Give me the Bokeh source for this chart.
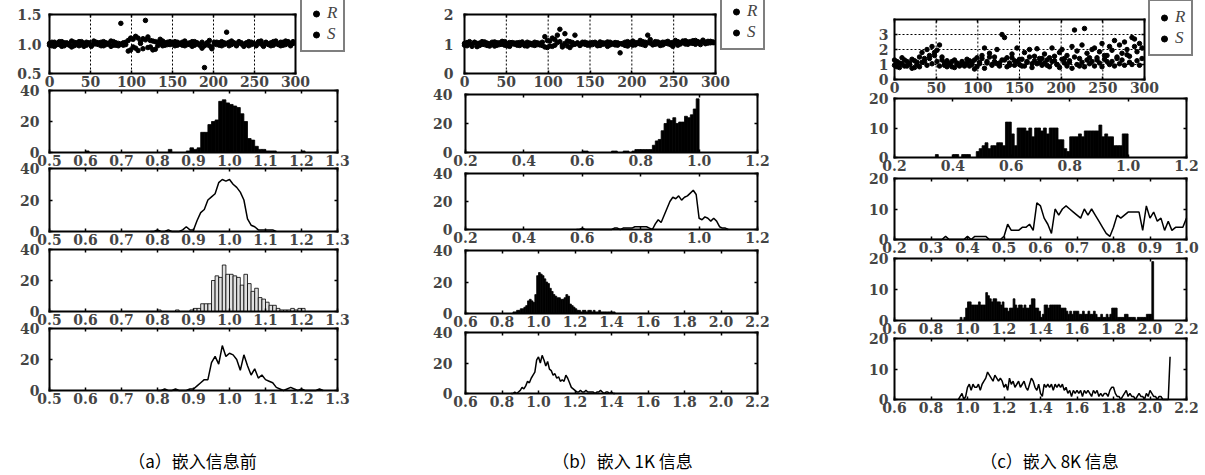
from bokeh.plotting import figure
from bokeh.models import Range1d, LinearAxis, FixedTicker, PrintfTickFormatter, Legend, LegendItem, Label
from bokeh.embed import file_html
from bokeh.resources import INLINE

# ---------------- data ----------------
idx = list(range(0, 300, 3))

a_R = [1.01,0.97,1.03,0.99,1.04,0.96,1.02,1.00,0.98,1.05,
       0.97,1.02,1.04,0.99,0.96,1.03,1.01,0.98,1.05,1.00,
       0.99,1.03,0.97,1.02,1.00,0.96,1.04,0.98,1.01,1.35,
       1.02,0.99,1.06,0.90,1.08,0.93,1.10,1.04,0.92,1.07,
       1.12,0.95,1.05,0.91,1.03,1.08,0.97,1.02,0.99,1.04,
       1.00,0.97,1.03,1.01,0.98,1.05,0.99,1.02,0.96,1.04,
       1.01,0.98,1.03,0.97,1.02,1.06,0.94,1.00,1.03,0.98,
       1.04,0.99,1.01,0.97,1.05,1.02,0.98,1.03,1.00,0.96,
       1.02,1.04,0.99,1.01,0.97,1.03,1.05,0.98,1.02,1.00,
       0.97,1.04,1.01,0.99,1.03,0.98,1.05,1.02,1.00,1.04]
a_S = [0.98,1.03,0.96,1.01,0.99,1.04,0.97,1.02,1.00,0.95,
       1.03,0.99,0.97,1.04,1.01,0.98,1.02,0.96,1.00,1.03,
       1.02,0.97,1.04,0.99,1.01,1.05,0.98,1.02,0.97,1.00,
       0.98,1.03,0.88,1.10,0.95,1.13,0.89,1.01,1.09,1.40,
       0.94,1.06,0.90,1.04,0.97,1.01,1.05,0.98,1.03,0.99,
       1.02,1.04,0.98,1.00,1.03,0.97,1.01,0.99,1.04,0.98,
       1.02,0.99,0.93,0.60,1.01,0.97,0.92,1.03,0.99,1.02,
       0.97,1.02,1.20,1.03,0.99,1.01,0.97,1.04,1.02,0.98,
       1.00,0.97,1.03,1.01,0.98,1.04,1.00,0.96,1.03,0.99,
       1.02,0.98,1.05,1.00,0.97,1.03,0.99,1.04,0.97,1.01]

b_R = [1.02,0.94,1.08,0.97,1.05,0.91,1.03,0.99,1.07,0.95,
       1.01,1.06,0.93,1.04,0.98,1.09,0.96,1.02,0.92,1.05,
       0.99,1.04,0.95,1.07,1.00,0.93,1.03,0.97,1.06,0.98,
       1.02,0.95,1.25,0.88,1.10,0.92,1.15,1.05,1.50,0.90,
       1.35,0.93,1.08,0.97,1.30,1.02,0.95,1.06,0.99,1.03,
       0.96,1.05,1.01,0.94,1.07,0.99,1.03,0.92,1.06,1.00,
       0.97,1.04,0.70,1.02,0.95,1.08,1.00,0.96,1.05,1.02,
       1.12,0.98,1.06,1.30,1.03,0.97,1.08,1.01,0.95,1.06,
       1.02,1.09,0.98,1.05,1.12,0.96,1.04,1.10,1.00,1.07,
       1.03,1.11,0.99,1.08,1.05,1.13,1.01,1.09,1.04,1.07]
b_S = [0.96,1.05,1.00,0.92,1.06,1.02,0.95,1.08,0.98,1.03,
       0.93,1.00,1.07,0.96,1.04,0.99,1.08,0.94,1.05,1.01,
       1.03,0.96,1.05,1.00,0.94,1.06,0.98,1.02,0.95,1.04,
       0.97,1.06,0.90,1.12,0.93,1.20,0.96,1.30,1.08,0.95,
       1.02,1.10,0.88,1.05,0.99,1.04,0.97,1.01,1.06,0.96,
       1.03,0.98,1.06,1.01,0.95,1.04,1.00,1.07,0.97,1.02,
       1.05,0.96,1.01,0.99,1.06,0.93,1.03,1.10,0.97,1.04,
       1.00,1.08,0.95,1.04,1.15,1.02,0.99,1.07,1.03,0.97,
       1.06,1.01,1.04,0.92,1.03,1.08,1.00,1.05,1.11,0.99,
       1.08,1.02,1.12,1.04,0.98,1.10,1.06,1.03,1.09,1.05]

c_R = [0.95,1.20,0.80,1.05,1.30,0.90,1.10,0.75,1.25,1.00,
       0.85,1.15,1.40,0.95,1.60,1.05,1.80,1.20,0.90,1.50,
       1.10,0.85,1.00,1.20,0.80,1.05,0.95,1.15,0.90,1.10,
       1.25,1.00,1.30,0.85,1.15,1.40,0.75,1.10,1.50,0.95,
       1.20,1.05,0.90,3.00,1.30,0.85,1.10,1.45,0.95,1.20,
       1.00,1.35,0.90,1.15,1.50,0.80,1.25,1.05,1.40,0.95,
       1.10,1.30,0.85,1.20,1.55,1.00,0.80,1.35,1.10,0.90,
       1.25,0.75,3.30,1.00,1.40,1.15,0.85,1.30,1.05,1.20,
       0.90,1.45,1.10,0.85,1.35,1.60,1.00,1.20,0.90,1.50,
       1.05,1.30,0.95,1.65,1.15,1.00,2.70,1.25,0.95,1.40]
c_S = [1.30,0.85,1.10,1.45,0.90,1.20,1.00,1.35,0.80,1.15,
       1.50,1.80,1.20,2.00,1.40,2.20,1.60,1.95,2.30,1.30,
       0.95,1.25,1.05,0.85,1.30,1.10,0.90,1.20,1.00,1.35,
       0.90,1.15,0.70,1.45,1.05,1.60,2.10,1.20,1.75,1.00,
       1.50,2.00,1.10,1.30,2.80,1.45,0.95,1.70,1.25,2.10,
       1.35,0.90,1.80,1.20,2.00,1.05,1.55,2.05,1.15,1.40,
       1.70,0.95,1.45,2.10,1.25,1.00,1.80,2.00,1.40,1.60,
       1.15,2.20,1.50,1.90,0.90,2.30,3.40,1.75,1.45,2.00,
       2.10,1.30,1.85,2.40,1.60,1.20,2.20,1.95,2.60,1.40,
       2.30,1.75,2.50,2.00,1.55,2.80,2.20,1.85,2.40,2.10]

bin_w = 0.01

# column (a): before embedding
a1_start = 0.60
a1_counts = [1,0,0,0,0,0,0,0,0,0,
             0,0,0,0,0,0,0,0,0,0,
             0,0,0,2,0,0,0,0,1,3,
             2,3,13,13,18,20,21,33,34,32,
             31,30,29,25,20,9,8,4,2,2,
             1,1,1,0,0,0,0,0,0,0,
             1]
a2_start = 0.78
a2_vals = [0,0,
           1,0,0,1,0,0,0,1,3,1,
           1,7,12,14,20,22,24,31,33,32,
           33,30,28,25,20,8,4,3,1,1,
           1,1,1,0]
a3_start = 0.80
a3_counts = [1,0,0,0,0,1,0,0,0,1,
             2,2,5,5,5,20,23,22,30,24,
             24,23,22,17,24,18,13,15,9,8,
             6,4,4,2,1,1,1,2,1,2,
             2]
a4_start = 0.80
a4_vals = [0,0,1,0,0,1,0,0,0,1,
           1,3,5,7,7,18,22,17,29,22,
           24,23,20,13,23,16,10,14,8,10,
           7,6,5,2,1,0,1,2,1,0,
           1,0,0,0,0,1,0]

# column (b): 1K embedded
b1_start = 0.60
b1_counts = [1,1,0,0,0,0,0,0,0,0,
             1,1,0,0,1,1,0,1,2,2,
             2,2,2,2,5,8,9,15,20,23,
             22,24,20,21,21,25,24,26,30,37]
b2_start = 0.58
b2_vals = [0,0,
           1,0,0,0,0,0,0,0,0,0,
           0,1,1,0,1,1,1,1,2,2,
           2,2,2,1,0,4,7,5,10,15,
           20,23,22,24,21,23,24,26,28,25,
           8,7,9,8,6,8,6,2,1,1,
           0]
b3_start = 0.86
b3_counts = [1,1,2,2,
             3,3,4,5,8,9,8,7,12,24,
             26,25,24,22,20,19,16,14,12,11,
             10,10,9,9,10,12,11,6,5,4,
             3,2,2,1,2,2,1,2,2,1,
             2,1,1,2,1,1,1,1,1,1,
             1,1]
b4_start = 0.85
b4_vals = [0,
           0,1,0,1,
           2,4,3,5,8,7,10,12,14,22,
           24,20,25,22,18,21,16,15,12,13,
           10,11,8,9,8,12,10,7,4,3,
           2,1,1,2,1,1,2,1,1,1,
           1,0,1,1,2,1,0,1,1,0,
           1,0,0]

# column (c): 8K embedded
c1_start = 0.34
c1_counts = [1,0,0,0,0,0,
             1,1,0,1,1,1,0,0,2,3,
             4,5,3,4,4,5,5,4,12,12,
             8,4,10,10,10,9,10,7,10,10,
             9,10,8,10,10,10,6,6,3,2,
             7,7,7,8,7,9,9,9,9,9,
             11,7,8,7,7,4,4,4,8,8]
c2_start = 0.20
c2_vals = [0,0,0,0,0,0,0,0,0,0,
           0,0,0,0,1,0,0,0,0,0,
           1,0,1,1,1,1,0,0,0,0,
           1,5,3,3,3,4,4,5,3,12,
           11,7,5,2,10,8,10,11,10,9,
           8,7,10,8,10,8,6,4,2,1,
           4,8,7,8,9,9,9,9,3,11,
           7,9,6,7,3,6,3,4,4,4,
           7]
c3_start = 0.96
c3_counts = [1,0,1,4,
             6,6,5,5,5,5,6,5,5,5,
             9,8,7,6,7,7,6,6,5,6,
             4,4,3,4,4,7,5,4,5,5,
             4,5,4,4,5,7,7,4,4,3,
             1,2,5,5,4,5,5,5,5,5,
             5,4,4,4,3,2,3,2,3,3,
             3,2,2,3,2,2,3,2,2,3,
             2,1,1,2,1,1,2,1,2,4,
             4,4,1,1,1,1,2,2,1,1,
             1,1,0,1,1,1,1,1,2,2,
             2,19]
c4_start = 0.95
c4_vals = [0,1,2,0,1,
           4,5,3,5,4,4,5,3,5,6,
           7,9,8,7,6,8,7,6,7,6,
           4,5,3,7,5,6,4,5,6,4,
           5,6,4,3,5,7,6,4,3,5,
           2,1,5,4,5,4,5,3,5,4,
           5,4,5,3,4,2,3,1,3,2,
           3,2,3,1,3,2,3,2,1,3,
           2,3,1,2,1,2,2,1,3,4,
           4,2,1,1,0,1,2,3,1,2,
           1,1,0,1,2,1,1,0,2,1,
           3,2,1,1,0,1,1,0,0,0,
           0,14]

scatter_xticks = [0, 50, 100, 150, 200, 250, 300]
scatter_grid = [50, 100, 150, 200, 250]
captions = ["（a）嵌入信息前", "（b）嵌入 1K 信息", "（c）嵌入 8K 信息"]

# ---------------- figure ----------------
W, H = 1205, 475
p = figure(width=W, height=H, x_range=Range1d(0, W), y_range=Range1d(H, 0),
           x_axis_location=None, y_axis_location=None, min_border=0,
           output_backend="svg", toolbar_location=None)
p.grid.visible = False
p.outline_line_color = None
p.background_fill_color = "white"
p.border_fill_color = "white"

FONT = "DejaVu Serif"
LFONT = "Liberation Serif"


def make_box(name, box, xr, yr):
    L, R, T, B = box
    x0, x1 = xr
    y0, y1 = yr
    sx = (x1 - x0) / (R - L)
    sy = (y1 - y0) / (B - T)
    p.extra_x_ranges[name] = Range1d(x0 - L * sx, x0 + (W - L) * sx)
    p.extra_y_ranges[name] = Range1d(y0 - (H - B) * sy, y0 + B * sy)


def add_axes(name, xr, yr, xt, yt, xfmt, yfmt, ystand):
    common = dict(x_range_name=name, y_range_name=name, axis_line_width=2,
                  axis_line_cap="square", major_tick_in=3, major_tick_out=0,
                  minor_tick_in=0, minor_tick_out=0, major_tick_line_width=1.5,
                  major_label_text_font=FONT, major_label_text_font_style="bold",
                  major_label_text_font_size="14px")
    b = LinearAxis(fixed_location=yr[0], bounds=xr, ticker=FixedTicker(ticks=xt),
                   formatter=PrintfTickFormatter(format=xfmt), major_label_standoff=2, **common)
    p.add_layout(b, "below")
    t = LinearAxis(fixed_location=yr[1], bounds=xr, ticker=FixedTicker(ticks=xt),
                   major_label_text_color=None, **common)
    p.add_layout(t, "above")
    l = LinearAxis(fixed_location=xr[0], bounds=yr, ticker=FixedTicker(ticks=yt),
                   formatter=PrintfTickFormatter(format=yfmt), major_label_standoff=ystand, **common)
    p.add_layout(l, "left")
    r = LinearAxis(fixed_location=xr[1], bounds=yr, ticker=FixedTicker(ticks=yt),
                   major_label_text_color=None, **common)
    p.add_layout(r, "right")


def bars(name, start, counts, fill):
    centers = [start + (i + 0.5) * bin_w for i in range(len(counts))]
    p.vbar(x=centers, top=counts, bottom=0, width=bin_w, fill_color=fill,
           line_color="black", line_width=0.8, x_range_name=name, y_range_name=name)


def curve(name, start, vals):
    xs = [start + i * bin_w for i in range(len(vals))]
    p.line(xs, vals, line_color="black", line_width=1.5, x_range_name=name, y_range_name=name)


def scatter_panel(name, box, yr, yt, yfmt, ystand, R, S, legend_loc, hgrid):
    make_box(name, box, (0, 300), yr)
    gy0 = [yr[0]] * len(scatter_grid)
    gy1 = [yr[1]] * len(scatter_grid)
    p.segment(x0=scatter_grid, y0=gy0, x1=scatter_grid, y1=gy1, line_color="black",
              line_width=1, line_dash="2 2", x_range_name=name, y_range_name=name)
    if hgrid:
        p.segment(x0=[0] * len(hgrid), y0=hgrid, x1=[300] * len(hgrid), y1=hgrid,
                  line_color="black", line_width=1, line_dash="2 2",
                  x_range_name=name, y_range_name=name)
    rR = p.scatter(idx, R, size=4.5, color="black", x_range_name=name, y_range_name=name)
    rS = p.scatter(idx, S, size=4.5, color="black", x_range_name=name, y_range_name=name)
    add_axes(name, (0, 300), yr, scatter_xticks, yt, "%d", yfmt, ystand)
    leg = Legend(items=[LegendItem(label="R", renderers=[rR]), LegendItem(label="S", renderers=[rS])],
                 location=legend_loc, padding=6, spacing=1, margin=0,
                 glyph_width=16, glyph_height=15, label_height=15, label_width=10,
                 label_standoff=3, label_text_font=LFONT, label_text_font_style="italic",
                 label_text_font_size="17px", border_line_color="black", border_line_width=2,
                 background_fill_color="white", background_fill_alpha=1.0)
    p.add_layout(leg)


# column (a)
scatter_panel("sa", (49, 295, 14, 73), (0.5, 1.5), [0.5, 1.0, 1.5], "%.1f", 8, a_R, a_S, (300, H - 52), None)
tka = [0.5, 0.6, 0.7, 0.8, 0.9, 1.0, 1.1, 1.2, 1.3]
for nm, box in [("ha1", (49, 337, 90, 152)), ("ha2", (49, 337, 168, 231)),
                ("ha3", (49, 337, 249, 311)), ("ha4", (49, 337, 328, 390))]:
    make_box(nm, box, (0.5, 1.3), (0, 40))
bars("ha1", a1_start, a1_counts, "black")
curve("ha2", a2_start, a2_vals)
bars("ha3", a3_start, a3_counts, "#e0e0e0")
curve("ha4", a4_start, a4_vals)
for nm in ["ha1", "ha2", "ha3", "ha4"]:
    add_axes(nm, (0.5, 1.3), (0, 40), tka, [0, 20, 40], "%.1f", "%d", 10)

# column (b)
scatter_panel("sb", (464, 715, 14, 73), (0, 2), [0, 1, 2], "%d", 11, b_R, b_S, (720, H - 50), None)
tkb1 = [0.2, 0.4, 0.6, 0.8, 1.0, 1.2]
tkb3 = [0.6, 0.8, 1.0, 1.2, 1.4, 1.6, 1.8, 2.0, 2.2]
make_box("hb1", (465, 757, 94, 152), (0.2, 1.2), (0, 40))
make_box("hb2", (465, 757, 173, 229), (0.2, 1.2), (0, 40))
make_box("hb3", (465, 757, 250, 313), (0.6, 2.2), (0, 40))
make_box("hb4", (465, 757, 332, 393), (0.6, 2.2), (0, 40))
bars("hb1", b1_start, b1_counts, "black")
curve("hb2", b2_start, b2_vals)
bars("hb3", b3_start, b3_counts, "black")
curve("hb4", b4_start, b4_vals)
add_axes("hb1", (0.2, 1.2), (0, 40), tkb1, [0, 20, 40], "%.1f", "%d", 13)
add_axes("hb2", (0.2, 1.2), (0, 40), tkb1, [0, 20, 40], "%.1f", "%d", 13)
add_axes("hb3", (0.6, 2.2), (0, 40), tkb3, [0, 20, 40], "%.1f", "%d", 13)
add_axes("hb4", (0.6, 2.2), (0, 40), tkb3, [0, 20, 40], "%.1f", "%d", 13)

# column (c)
scatter_panel("sc", (894, 1144, 19, 79), (0, 4), [0, 1, 2, 3], "%d", 6, c_R, c_S, (1148, H - 56), [1, 2, 3])
tkc2 = [0.2, 0.3, 0.4, 0.5, 0.6, 0.7, 0.8, 0.9, 1.0]
make_box("hc1", (894, 1186, 98, 157), (0.2, 1.2), (0, 20))
make_box("hc2", (894, 1186, 178, 239), (0.2, 1.0), (0, 20))
make_box("hc3", (894, 1186, 258, 320), (0.6, 2.2), (0, 20))
make_box("hc4", (894, 1186, 338, 399), (0.6, 2.2), (0, 20))
bars("hc1", c1_start, c1_counts, "black")
curve("hc2", c2_start, c2_vals)
bars("hc3", c3_start, c3_counts, "black")
curve("hc4", c4_start, c4_vals)
add_axes("hc1", (0.2, 1.2), (0, 20), tkb1, [0, 10, 20], "%.1f", "%d", 6)
add_axes("hc2", (0.2, 1.0), (0, 20), tkc2, [0, 10, 20], "%.1f", "%d", 6)
add_axes("hc3", (0.6, 2.2), (0, 20), tkb3, [0, 10, 20], "%.1f", "%d", 6)
add_axes("hc4", (0.6, 2.2), (0, 20), tkb3, [0, 10, 20], "%.1f", "%d", 6)

# captions
for cx, txt in zip([192, 622, 1049], captions):
    p.add_layout(Label(x=cx, y=460, text=txt, text_align="center", text_baseline="middle",
                       text_font="Noto Sans CJK SC", text_font_size="17px",
                       text_font_style="normal", text_color="black"))

open("out.html", "w").write(file_html(p, INLINE))
